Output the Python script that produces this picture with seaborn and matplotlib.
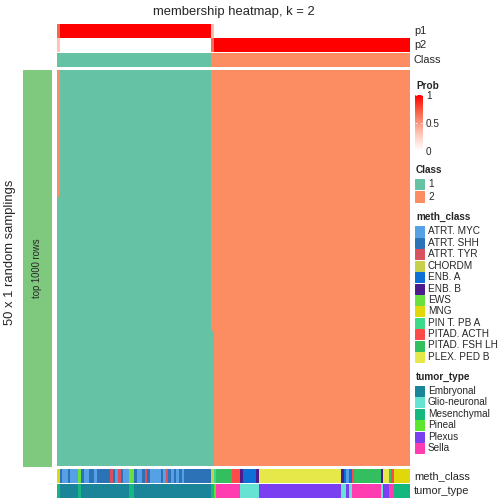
import numpy as np
import matplotlib
matplotlib.use("Agg")
import matplotlib.pyplot as plt
import seaborn as sns
from matplotlib.colors import ListedColormap, LinearSegmentedColormap
from matplotlib.patches import Rectangle

# ---- data ----
N_SAMPLINGS = 50
# membership probability of class 1 per column, as runs (value, n columns)
p1_runs = [(0.68, 1), (1.0, 57), (0.34, 1), (0.0, 74)]

meth_runs = [
    ("MNG", 1), ("ATRT. SHH", 1), ("ATRT. MYC", 2), ("ATRT. SHH", 1), ("ATRT. MYC", 3),
    ("EWS", 1), ("ATRT. SHH", 1), ("ATRT. MYC", 2), ("ATRT. SHH", 2), ("ATRT. MYC", 1),
    ("ATRT. SHH", 5), ("ATRT. TYR", 1), ("ATRT. SHH", 1), ("ATRT. MYC", 1), ("ATRT. TYR", 1),
    ("ATRT. SHH", 1), ("ATRT. MYC", 2), ("EWS", 2), ("ATRT. SHH", 1), ("ATRT. MYC", 2),
    ("ATRT. SHH", 1), ("ATRT. TYR", 1), ("ATRT. SHH", 1), ("ATRT. MYC", 4), ("ATRT. SHH", 1),
    ("ATRT. MYC", 1), ("ATRT. TYR", 1), ("ATRT. SHH", 1), ("ATRT. MYC", 1), ("ATRT. SHH", 1),
    ("ATRT. MYC", 1), ("ATRT. SHH", 1), ("ATRT. MYC", 1), ("ATRT. SHH", 10),
    ("CHORDM", 1), ("PIN T. PB A", 1), ("PITAD. FSH LH", 6), ("PITAD. ACTH", 3), ("ENB. B", 1),
    ("ENB. A", 5), ("ENB. B", 1), ("PLEX. PED B", 31), ("ENB. B", 1), ("ENB. A", 1),
    ("ATRT. MYC", 1), ("ENB. A", 1), ("PITAD. ACTH", 1), ("PITAD. FSH LH", 10), ("ENB. B", 1),
    ("PLEX. PED B", 2), ("PITAD. FSH LH", 1), ("PITAD. ACTH", 1), ("MNG", 6),
]
tumor_runs = [
    ("Mesenchymal", 1), ("Embryonal", 7), ("Mesenchymal", 1), ("Embryonal", 18),
    ("Mesenchymal", 2), ("Embryonal", 29), ("Mesenchymal", 1), ("Pineal", 1), ("Sella", 9),
    ("Glio-neuronal", 7), ("Plexus", 31), ("Glio-neuronal", 2), ("Plexus", 1),
    ("Glio-neuronal", 1), ("Sella", 11), ("Glio-neuronal", 1), ("Plexus", 2), ("Sella", 2),
    ("Mesenchymal", 6),
]

class_levels = ["1", "2"]
class_colors = ["#66C2A5", "#FC8D62"]
meth_levels = ["ATRT. MYC", "ATRT. SHH", "ATRT. TYR", "CHORDM", "ENB. A", "ENB. B", "EWS",
               "MNG", "PIN T. PB A", "PITAD. ACTH", "PITAD. FSH LH", "PLEX. PED B"]
meth_colors = ["#56A0E5", "#2B73B6", "#D9505E", "#C6D04A", "#0E6FD6", "#4D1C8C", "#6AE03E",
               "#E0D80A", "#3DD98A", "#FF4A4A", "#33BF60", "#E6E84A"]
tumor_levels = ["Embryonal", "Glio-neuronal", "Mesenchymal", "Pineal", "Plexus", "Sella"]
tumor_colors = ["#1A8599", "#66E3D2", "#14B87F", "#5CE62E", "#7A3FF0", "#FF3DB0"]

# ---- expand runs ----
p1 = np.repeat([v for v, n in p1_runs], [n for v, n in p1_runs])
p2 = 1 - p1
meth = np.repeat([a for a, n in meth_runs], [n for a, n in meth_runs])
tumor = np.repeat([a for a, n in tumor_runs], [n for a, n in tumor_runs])
n_cols = len(p1)

# membership matrix: each sampling row assigns each column to a class
n_class2 = np.round(p2 * N_SAMPLINGS).astype(int)
member = np.zeros((N_SAMPLINGS, n_cols))
for j in range(n_cols):
    member[:n_class2[j], j] = 1
cls = (p2 > p1).astype(int)

sns.set_style("white")
plt.rcParams["font.family"] = ["Liberation Sans", "DejaVu Sans"]

W = H = 504
fig = plt.figure(figsize=(7, 7), dpi=72)


def box(x, y, w, h):
    return [x / W, 1 - (y + h) / H, w / W, h / H]


def strip(data, rect, cmap, vmin, vmax):
    ax = fig.add_axes(box(*rect))
    sns.heatmap(data, ax=ax, cmap=cmap, vmin=vmin, vmax=vmax, cbar=False,
                xticklabels=False, yticklabels=False)
    ax.set_xlabel("")
    ax.set_ylabel("")
    return ax


prob_cmap = LinearSegmentedColormap.from_list(
    "prob", [(0, "#FFFFFF"), (0.32, "#FFC4B4"), (0.68, "#F8684E"), (1, "#FF0000")])

HX, HW = 57, 353
strip(np.vstack([p1, p2]), (HX, 24, HW, 28), prob_cmap, 0, 1)
strip(cls[None, :], (HX, 53, HW, 14), ListedColormap(class_colors), 0, 1)
strip(member, (HX, 70, HW, 396), ListedColormap(class_colors), 0, 1)
meth_idx = np.array([meth_levels.index(m) for m in meth])[None, :]
strip(meth_idx, (HX, 469, HW, 14), ListedColormap(meth_colors), -0.5, len(meth_levels) - 0.5)
tumor_idx = np.array([tumor_levels.index(t) for t in tumor])[None, :]
strip(tumor_idx, (HX, 484, HW, 14), ListedColormap(tumor_colors), -0.5, len(tumor_levels) - 0.5)

# row annotation labels
for lab, y in [("p1", 31), ("p2", 45), ("Class", 60), ("meth_class", 476), ("tumor_type", 491)]:
    fig.text(414 / W, 1 - y / H, lab, fontsize=11, ha="left", va="center")

fig.text(233.5 / W, 1 - 12 / H, "membership heatmap, k = 2", fontsize=13, ha="center", va="center")

# left split bar
fig.patches.append(Rectangle((23 / W, 1 - 466 / H), 28 / W, 396 / H, color="#7FC97F",
                             transform=fig.transFigure, figure=fig))
fig.text(37 / W, 1 - 268 / H, "top 1000 rows", fontsize=9.5, rotation=90, ha="center", va="center")
fig.text(10 / W, 1 - 252 / H, "50 x 1 random samplings", fontsize=13, rotation=90,
         ha="center", va="center")

# ---- legends ----
LX = 416
LFS = 10
fig.text(LX / W, 1 - 86 / H, "Prob", fontsize=LFS, fontweight="bold", ha="left", va="center")
cax = fig.add_axes(box(415, 95, 8, 56))
cax.imshow(np.linspace(1, 0, 200)[:, None], aspect="auto", cmap=prob_cmap, extent=[0, 1, 0, 1])
cax.set_xticks([])
cax.yaxis.tick_right()
cax.set_yticks([0, 0.5, 1])
cax.set_yticklabels(["0", "0.5", "1"], fontsize=LFS)
cax.tick_params(axis="y", direction="in", length=2, color="white", left=True, right=True, pad=3)
for lbl in cax.get_yticklabels():
    lbl.set_y(lbl.get_position()[1])
for s in cax.spines.values():
    s.set_visible(False)


def legend_block(title, ty, labels, colors, y0, step=11.4):
    fig.text(LX / W, 1 - ty / H, title, fontsize=LFS, fontweight="bold", ha="left", va="center")
    for i, (lab, col) in enumerate(zip(labels, colors)):
        yc = y0 + i * step
        fig.patches.append(Rectangle((415 / W, 1 - (yc + 5) / H), 9 / W, 10 / H, color=col,
                                     transform=fig.transFigure, figure=fig))
        fig.text(428 / W, 1 - yc / H, lab, fontsize=LFS, ha="left", va="center")


legend_block("Class", 170, class_levels, class_colors, 184, step=12.5)
legend_block("meth_class", 217, meth_levels, meth_colors, 231.5)
legend_block("tumor_type", 377, tumor_levels, tumor_colors, 391)

fig.savefig("out.png", dpi=72)
